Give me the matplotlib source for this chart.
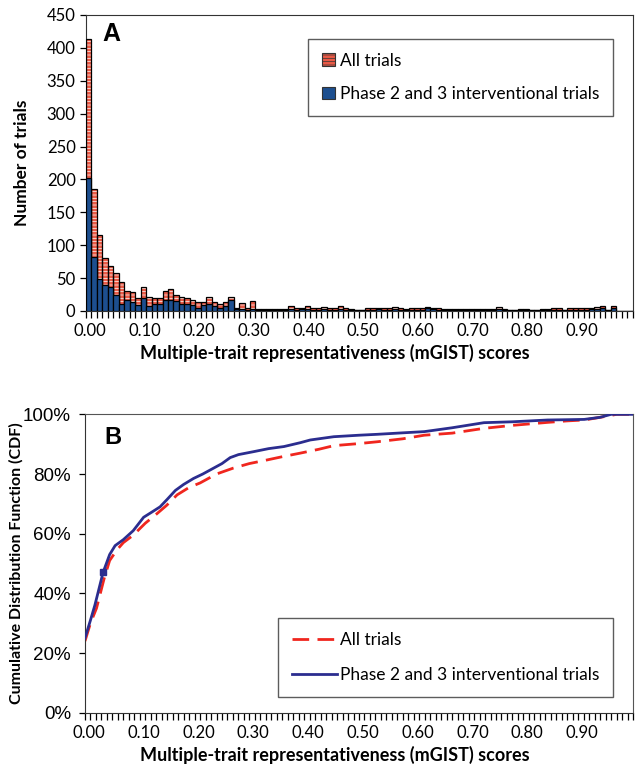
import numpy as np
import matplotlib
matplotlib.use("Agg")
import matplotlib.pyplot as plt
from matplotlib.patches import Patch
from matplotlib.lines import Line2D

# ---------------------------------------------
# DATA
# ---------------------------------------------

bin_width = 0.01
bin_left = np.arange(100) * bin_width

all_trials = [414, 186, 115, 81, 68, 58, 44, 31, 29, 19,
              37, 22, 19, 19, 30, 33, 24, 22, 19, 16,
              13, 14, 21, 13, 11, 13, 22, 5, 12, 4,
              15, 3, 3, 3, 3, 3, 3, 7, 5, 5,
              7, 5, 4, 6, 4, 5, 8, 4, 3, 2,
              2, 4, 4, 5, 4, 4, 6, 4, 3, 4,
              4, 4, 6, 5, 4, 3, 3, 3, 3, 3,
              3, 3, 3, 3, 3, 6, 3, 2, 2, 3,
              3, 2, 2, 3, 3, 4, 4, 2, 4, 4,
              4, 4, 5, 6, 8, 2, 8, 0, 0, 0]

phase23 = [202, 82, 48, 40, 36, 25, 11, 16, 14, 9,
           19, 7, 11, 11, 16, 17, 15, 10, 10, 9,
           5, 9, 11, 7, 5, 8, 17, 3, 3, 2,
           3, 2, 2, 2, 2, 2, 2, 3, 2, 3,
           3, 2, 2, 3, 2, 2, 3, 2, 2, 1,
           1, 2, 2, 3, 2, 2, 3, 2, 2, 2,
           2, 2, 4, 3, 2, 2, 2, 2, 2, 2,
           2, 2, 2, 2, 2, 3, 2, 1, 1, 2,
           2, 1, 1, 2, 2, 2, 2, 1, 2, 2,
           2, 2, 3, 3, 4, 1, 4, 0, 0, 0]

cdf_x_p23 = [0, 0.01, 0.018, 0.033, 0.045, 0.055, 0.07, 0.088, 0.107, 0.12,
             0.137, 0.15, 0.165, 0.18, 0.198, 0.215, 0.235, 0.25, 0.265, 0.28,
             0.308, 0.335, 0.363, 0.393, 0.411, 0.454, 0.5, 0.533, 0.58, 0.619,
             0.67, 0.728, 0.78, 0.844, 0.88, 0.911, 0.94, 0.96, 1.0]
cdf_y_p23 = [25, 31, 36, 47, 53, 56, 58, 61, 65.5, 67,
             69, 71.5, 74.5, 76.5, 78.5, 80, 82, 83.5, 85.5, 86.5,
             87.5, 88.5, 89.2, 90.5, 91.4, 92.5, 93, 93.3, 93.8, 94.2,
             95.5, 97.2, 97.5, 98.1, 98.2, 98.3, 99, 100, 100]

cdf_x_all = [0, 0.01, 0.021, 0.035, 0.045, 0.058, 0.07, 0.088, 0.11, 0.13,
             0.149, 0.168, 0.19, 0.21, 0.24, 0.271, 0.3, 0.332, 0.36, 0.393,
             0.427, 0.454, 0.5, 0.533, 0.58, 0.619, 0.67, 0.728, 0.78, 0.844,
             0.88, 0.911, 0.953, 0.97, 1.0]
cdf_y_all = [24, 30, 35, 45, 51, 54.5, 57, 59.5, 63.5, 66.5,
             69.5, 73, 75.5, 77, 80, 82, 83.5, 84.7, 85.8, 87,
             88.3, 89.5, 90.2, 90.8, 91.8, 93, 93.7, 95.3, 96.3, 97.3,
             97.8, 98.1, 99.4, 100, 100]

xtick_labels = ["0.00", "0.10", "0.20", "0.30", "0.40",
                "0.50", "0.60", "0.70", "0.80", "0.90"]

# ---------------------------------------------
# STYLE
# ---------------------------------------------

plt.rcParams['font.family'] = ['Lato', 'DejaVu Sans']
plt.rcParams['hatch.linewidth'] = 0.5
PINK = '#ea5a46'
BLUE = '#1d4f8f'
XLABEL = "Multiple-trait representativeness (mGIST) scores"

fig = plt.figure(figsize=(6.38, 7.73), dpi=100)
axA = fig.add_axes([0.1348, 0.5977, 0.857, 0.383])
axB = fig.add_axes([0.1332, 0.0780, 0.859, 0.386])


def style_xaxis(ax):
    ax.set_xlim(0, 1)
    ax.set_xticks(np.arange(101) * 0.01, minor=True)
    ax.set_xticks([])
    ax.tick_params(axis='x', which='minor', length=5, width=0.9, direction='out')
    for k, lab in enumerate(xtick_labels):
        ax.text(k * 0.1 + 0.007, -0.04, lab, transform=ax.get_xaxis_transform(),
                ha='center', va='top', fontsize=12)
    ax.text(0.455, -0.11, XLABEL, transform=ax.transAxes, ha='center', va='top',
            fontsize=13, fontweight='bold')


# ---------------------------------------------
# PANEL A: histogram
# ---------------------------------------------

axA.bar(bin_left, all_trials, width=bin_width, align='edge', color=PINK,
        edgecolor='white', hatch='-----', linewidth=0, zorder=2)
axA.bar(bin_left, all_trials, width=bin_width, align='edge', fill=False,
        edgecolor='black', linewidth=0.9, zorder=3)
axA.bar(bin_left, phase23, width=bin_width, align='edge', color=BLUE,
        edgecolor='black', linewidth=0.9, zorder=4)

axA.set_ylim(0, 450)
axA.set_yticks(np.arange(0, 451, 50))
axA.tick_params(axis='y', labelsize=12, length=4, width=0.9)
axA.set_ylabel("Number of trials", fontsize=12.5, fontweight='bold', labelpad=12)
style_xaxis(axA)
for s in axA.spines.values():
    s.set_color('#333333')
axA.text(0.03, 0.975, "A", transform=axA.transAxes, fontsize=18, fontweight='bold',
         family='Liberation Sans', va='top')

hA = [Patch(facecolor=PINK, edgecolor='#333333', hatch='-----', linewidth=0.8),
      Patch(facecolor=BLUE, edgecolor='#333333', linewidth=0.8)]
legA = axA.legend(hA, ["All trials", "Phase 2 and 3 interventional trials"],
                  loc='upper right', bbox_to_anchor=(0.98, 0.949), fontsize=12.5,
                  frameon=True, fancybox=False, edgecolor='#333333',
                  handlelength=0.75, handleheight=0.75, handletextpad=0.3,
                  labelspacing=1.0, borderpad=0.8)
legA.get_frame().set_linewidth(1.0)

# ---------------------------------------------
# PANEL B: CDF
# ---------------------------------------------

axB.plot(cdf_x_p23, cdf_y_p23, color='#2b2d8f', linewidth=2.0, zorder=3,
         marker='s', markersize=4, markevery=[3])
axB.plot(cdf_x_all, cdf_y_all, color='#f0261e', linewidth=2.0, dashes=(6, 3),
         zorder=2)

axB.set_ylim(0, 100)
axB.set_yticks(np.arange(0, 101, 20))
axB.set_yticklabels([f"{v}%" for v in range(0, 101, 20)], family='Liberation Sans')
axB.tick_params(axis='y', labelsize=13.5, length=4, width=0.9, pad=6)
axB.set_ylabel("Cumulative Distribution Function (CDF)", fontsize=11.5,
               fontweight='bold', labelpad=0)
style_xaxis(axB)
for s in axB.spines.values():
    s.set_color('#555555')
axB.spines['left'].set_color('#333333')
axB.spines['bottom'].set_color('#333333')
axB.text(0.035, 0.96, "B", transform=axB.transAxes, fontsize=17, fontweight='bold',
         family='Liberation Sans', va='top')

hB = [Line2D([0], [0], color='#f0261e', linewidth=2.0, dashes=(6, 3)),
      Line2D([0], [0], color='#2b2d8f', linewidth=2.0)]
legB = axB.legend(hB, ["All trials", "Phase 2 and 3 interventional trials"],
                  loc='upper right', bbox_to_anchor=(0.98, 0.345), fontsize=12.5,
                  frameon=True, fancybox=False, edgecolor='#333333',
                  handlelength=2.6, handletextpad=0.2, labelspacing=1.1,
                  borderpad=0.8)
legB.get_frame().set_linewidth(1.0)

fig.savefig("out.png", dpi=100)
